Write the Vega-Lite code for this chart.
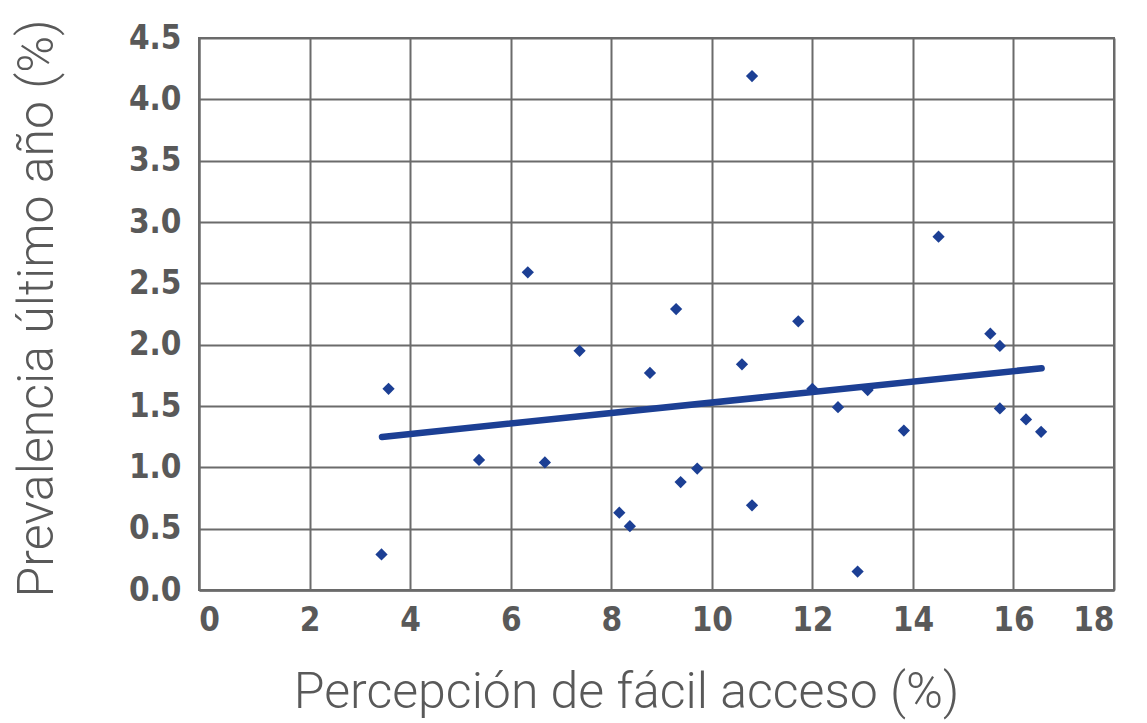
{
  "$schema": "https://vega.github.io/schema/vega-lite/v6.json",
  "width": 915,
  "height": 552,
  "autosize": "none",
  "padding": {"left": 199, "top": 38, "right": 33, "bottom": 133},
  "background": "white",
  "config": {
    "view": {"stroke": "#6b6b6b", "strokeWidth": 2},
    "axis": {
      "domainColor": "#6b6b6b",
      "domainWidth": 2.5,
      "gridColor": "#6b6b6b",
      "gridWidth": 2,
      "gridOpacity": 1,
      "ticks": false,
      "labelFont": "DejaVu Sans Condensed",
      "labelFontWeight": "bold",
      "labelFontSize": 33,
      "labelColor": "#595959",
      "titleFont": "Roboto",
      "titleFontWeight": 300,
      "titleFontSize": 50,
      "titleColor": "#595959"
    }
  },
  "datasets": {
    "points": [
      {"acceso": 3.57, "prevalencia": 1.64},
      {"acceso": 3.43, "prevalencia": 0.29},
      {"acceso": 5.37, "prevalencia": 1.06},
      {"acceso": 6.34, "prevalencia": 2.59},
      {"acceso": 6.68, "prevalencia": 1.04},
      {"acceso": 7.37, "prevalencia": 1.95},
      {"acceso": 8.16, "prevalencia": 0.63},
      {"acceso": 8.37, "prevalencia": 0.52},
      {"acceso": 8.77, "prevalencia": 1.77},
      {"acceso": 9.29, "prevalencia": 2.29},
      {"acceso": 9.38, "prevalencia": 0.88},
      {"acceso": 9.71, "prevalencia": 0.99},
      {"acceso": 10.6, "prevalencia": 1.84},
      {"acceso": 10.8, "prevalencia": 4.19},
      {"acceso": 10.8, "prevalencia": 0.69},
      {"acceso": 11.72, "prevalencia": 2.19},
      {"acceso": 12.0, "prevalencia": 1.64},
      {"acceso": 12.51, "prevalencia": 1.49},
      {"acceso": 12.9, "prevalencia": 0.15},
      {"acceso": 13.1, "prevalencia": 1.63},
      {"acceso": 13.82, "prevalencia": 1.3},
      {"acceso": 14.51, "prevalencia": 2.88},
      {"acceso": 15.54, "prevalencia": 2.09},
      {"acceso": 15.73, "prevalencia": 1.99},
      {"acceso": 15.73, "prevalencia": 1.48},
      {"acceso": 16.25, "prevalencia": 1.39},
      {"acceso": 16.55, "prevalencia": 1.29}
    ],
    "trend": [
      {"acceso": 3.44, "prevalencia": 1.248},
      {"acceso": 16.56, "prevalencia": 1.808}
    ]
  },
  "encoding": {
    "x": {
      "field": "acceso",
      "type": "quantitative",
      "scale": {"domain": [-0.2, 18], "nice": false, "zero": false},
      "axis": {
        "title": "Percepción de fácil acceso (%)",
        "values": [0, 2, 4, 6, 8, 10, 12, 14, 16, 18],
        "format": "d",
        "labelPadding": 14,
        "titlePadding": 30,
        "titleX": 427,
        "gridOpacity": {"condition": {"test": "datum.value === 0", "value": 0}, "value": 1}
      }
    },
    "y": {
      "field": "prevalencia",
      "type": "quantitative",
      "scale": {"domain": [0, 4.5], "nice": false},
      "axis": {
        "title": "Prevalencia último año (%)",
        "values": [0, 0.5, 1, 1.5, 2, 2.5, 3, 3.5, 4, 4.5],
        "format": ".1f",
        "labelPadding": 18,
        "titlePadding": 66,
        "titleY": 270
      }
    }
  },
  "layer": [
    {
      "data": {"name": "points"},
      "mark": {"type": "point", "shape": "diamond", "filled": true, "size": 150, "color": "#1c3f94", "opacity": 1}
    },
    {
      "data": {"name": "trend"},
      "mark": {"type": "line", "color": "#1c3f94", "strokeWidth": 6.5, "strokeCap": "round"}
    }
  ]
}
